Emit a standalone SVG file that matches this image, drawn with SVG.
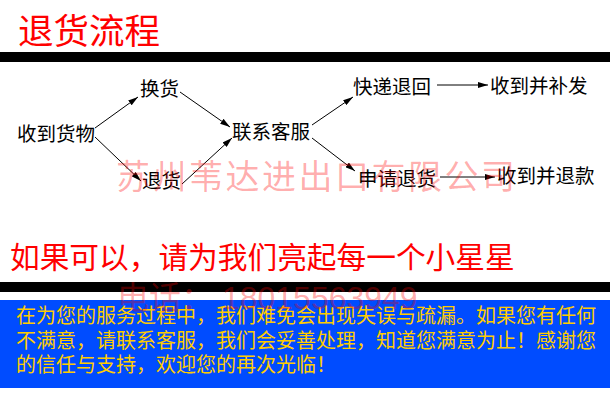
<svg xmlns="http://www.w3.org/2000/svg" width="610" height="405" viewBox="0 0 610 405">
<style>
.cjk{font-family:"Noto Sans CJK SC",sans-serif}
.node{font-family:"Noto Sans CJK SC",sans-serif;font-size:19.5px;fill:#000}
.edge{stroke:#000;stroke-width:1;fill:none;marker-end:url(#ah)}
.wm{fill:#ff0000;fill-opacity:0.33}
.msg{font-family:"Noto Sans CJK SC",sans-serif;font-size:20px;fill:#ffcc00}
</style>
<defs>
<marker id="ah" markerUnits="userSpaceOnUse" markerWidth="10" markerHeight="6" refX="10" refY="3" orient="auto">
<path d="M0,0 L10,3 L0,6 z" fill="#000"/>
</marker>
</defs>
<rect width="610" height="405" fill="#fff"/>
<text id="title" class="cjk" x="18" y="44" font-size="35.5" fill="#ff0000">退货流程</text>
<rect x="0" y="52" width="610" height="10" fill="#000"/>

<g id="connectors">
<line class="edge" x1="95" y1="128" x2="138" y2="97"/>
<line class="edge" x1="95" y1="137" x2="141" y2="181"/>
<line class="edge" x1="180" y1="92" x2="230" y2="127"/>
<line class="edge" x1="182" y1="184" x2="232" y2="138"/>
<line class="edge" x1="312" y1="125" x2="353" y2="97"/>
<line class="edge" x1="312" y1="138" x2="355" y2="171"/>
<line class="edge" x1="437" y1="85" x2="488" y2="85"/>
<line class="edge" x1="440" y1="177" x2="495" y2="177"/>
</g>

<g id="n-receive"><text class="node" x="17" y="141">收到货物</text></g>
<g id="n-exchange"><text class="node" x="140" y="96">换货</text></g>
<g id="n-return"><text class="node" x="142" y="188">退货</text></g>
<g id="n-service"><text class="node" x="232" y="139">联系客服</text></g>
<g id="n-express"><text class="node" x="353" y="94">快递退回</text></g>
<g id="n-apply"><text class="node" x="358" y="186">申请退货</text></g>
<g id="n-resend"><text class="node" x="490" y="93">收到并补发</text></g>
<g id="n-refund"><text class="node" x="497" y="183">收到并退款</text></g>

<text class="cjk wm" x="116" y="189" font-size="34" letter-spacing="2.5">苏州苇达进出口有限公司</text>

<text class="cjk" x="10" y="268" font-size="29.7" fill="#ff0000">如果可以，请为我们亮起每一个小星星</text>
<rect x="0" y="282" width="610" height="10" fill="#000"/>
<rect x="0" y="300" width="610" height="88" fill="#004cff"/>
<text class="msg" x="16" y="323">在为您的服务过程中，我们难免会出现失误与疏漏。如果您有任何</text>
<text class="msg" x="16" y="347.5">不满意，请联系客服，我们会妥善处理，知道您满意为止！感谢您</text>
<text class="msg" x="16" y="372">的信任与支持，欢迎您的再次光临！</text>
<text class="wm" x="117" y="309" font-size="32" font-family="Liberation Sans, Noto Sans CJK SC, sans-serif">电话： 18015563949</text>
</svg>
